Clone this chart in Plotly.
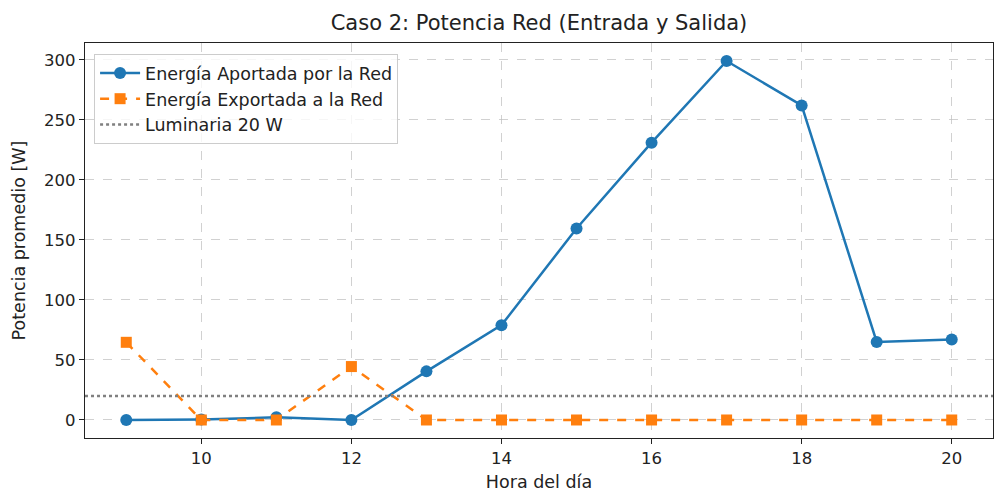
import plotly.graph_objects as go

# Datos
horas = [9, 10, 11, 12, 13, 14, 15, 16, 17, 18, 19, 20]
aportada = [0, 0.5, 2.2, 0, 40.5, 79, 159.5, 231, 299, 262, 65, 67]
exportada = [64.7, 0, 0, 44.5, 0, 0, 0, 0, 0, 0, 0, 0]
luminaria_w = 20

font = "DejaVu Sans"
grid = dict(showgrid=True, gridcolor='rgba(190,190,190,0.7)', griddash='dash', gridwidth=1,
            showline=True, linecolor='#222222', linewidth=1.2, mirror=True,
            ticks='outside', ticklen=5, tickcolor='#222222', zeroline=False,
            tickfont=dict(size=16.5, color='#222222', family=font))

fig = go.Figure()
fig.add_trace(go.Scatter(x=horas, y=aportada, mode='lines+markers', name='Energía Aportada por la Red',
                         line=dict(color='#1f77b4', width=2.5),
                         marker=dict(symbol='circle', size=12, color='#1f77b4')))
fig.add_trace(go.Scatter(x=horas, y=exportada, mode='lines+markers', name='Energía Exportada a la Red',
                         line=dict(color='#ff7f0e', width=2.5, dash='dash'),
                         marker=dict(symbol='square', size=11, color='#ff7f0e')))
fig.add_hline(y=luminaria_w, line=dict(color='gray', width=2.5, dash='dot'),
              showlegend=True, name='Luminaria 20 W', layer='above')

fig.update_layout(
    width=994, height=493,
    template='plotly_white',
    plot_bgcolor='white', paper_bgcolor='white',
    margin=dict(l=85, r=1, t=43, b=55),
    font=dict(family=font, size=17, color='#222222'),
    title=dict(text='Caso 2: Potencia Red (Entrada y Salida)', x=0.5, xanchor='center', xref='paper',
               y=0.955, yanchor='middle', font=dict(size=21, family=font, color='#222222')),
    xaxis=dict(range=[8.45, 20.55], tickvals=[10, 12, 14, 16, 18, 20],
               title=dict(text='Hora del día', font=dict(size=17.5), standoff=8), **grid),
    yaxis=dict(range=[-15, 314], tickvals=[0, 50, 100, 150, 200, 250, 300],
               title=dict(text='Potencia promedio [W]', font=dict(size=17.5), standoff=13), **grid),
    legend=dict(x=0.01, y=0.972, xanchor='left', yanchor='top',
                bgcolor='rgba(255,255,255,0.8)', bordercolor='#cccccc', borderwidth=1,
                font=dict(size=17.5, family=font), itemwidth=40, tracegroupgap=0),
    showlegend=True,
)

fig.write_html("out.html", config={'displayModeBar': False},
               post_script="document.body.style.margin='0';")
